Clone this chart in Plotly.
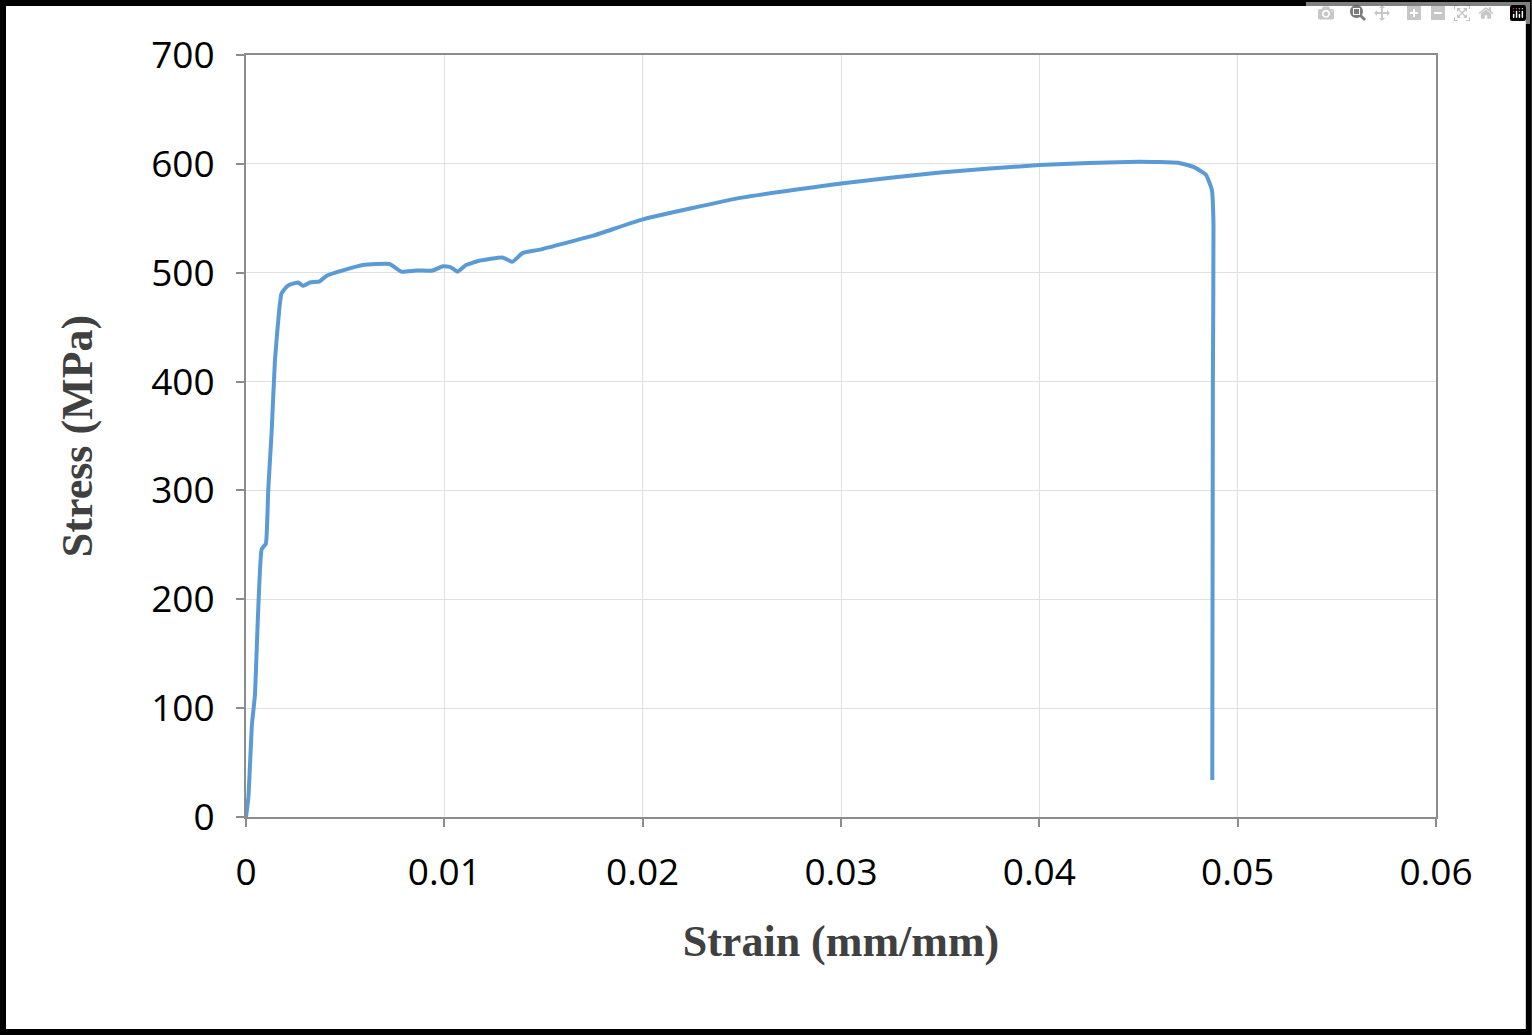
import plotly.graph_objects as go

strain = [0, 0.00012, 0.0003, 0.00045, 0.00079, 0.001, 0.00112, 0.00129, 0.00146, 0.00168, 0.00179,
          0.00204, 0.00221, 0.00263, 0.00288, 0.00322, 0.00372, 0.00405, 0.00506, 0.0059, 0.00724,
          0.00782, 0.00858, 0.00941, 0.00992, 0.01033, 0.01067, 0.01109, 0.01176, 0.01293, 0.01343,
          0.01394, 0.01477, 0.0175, 0.02, 0.025, 0.03, 0.035, 0.04, 0.045, 0.047, 0.0478, 0.0484,
          0.0487, 0.04878, 0.04875, 0.04872]
stress = [0, 18, 85, 112, 246, 251, 300, 353, 420, 467, 481,
          487, 489, 491, 488, 491, 492, 497, 503, 507, 508,
          501, 502, 502, 506, 505, 501, 507, 511, 514, 510,
          518, 521, 534, 549, 569, 582, 592, 599, 602, 601, 597, 590,
          576, 545, 400, 34]

fig = go.Figure(go.Scatter(x=strain, y=stress, mode="lines", line_shape="spline",
                           line=dict(color="#5b9bd5", width=4, smoothing=0.4)))

axis_common = dict(showgrid=True, gridcolor="#e0e0e0", gridwidth=1, showline=True,
                   linecolor="#8c8c8c", linewidth=2, ticks="outside", ticklen=8,
                   tickcolor="#8c8c8c", tickwidth=2, zeroline=False, ticklabelstandoff=14,
                   tickfont=dict(family="Open Sans, Liberation Sans", size=37, color="#000"))
fig.update_xaxes(range=[0, 0.06], dtick=0.01, mirror=True,
                 title=dict(text="<b>Strain (mm/mm)</b>", standoff=30,
                            font=dict(family="Liberation Serif", size=44, color="#404040")),
                 **axis_common)
fig.update_yaxes(range=[0, 700], dtick=100, mirror=True,
                 title=dict(text="<b>Stress (MPa)</b>", standoff=45,
                            font=dict(family="Liberation Serif", size=44, color="#404040")),
                 **axis_common)
fig.update_layout(width=1532, height=1035, plot_bgcolor="white", paper_bgcolor="white",
                  margin=dict(l=246, r=96, t=55, b=218), showlegend=False,
                  shapes=[dict(type="rect", xref="paper", yref="paper",
                               x0=-0.2042, x1=1.078, y0=-0.2822, y1=1.0682,
                               line=dict(color="black", width=6))])
fig.write_html("out.html", post_script="document.body.style.margin='0';document.body.style.overflow='hidden';")
